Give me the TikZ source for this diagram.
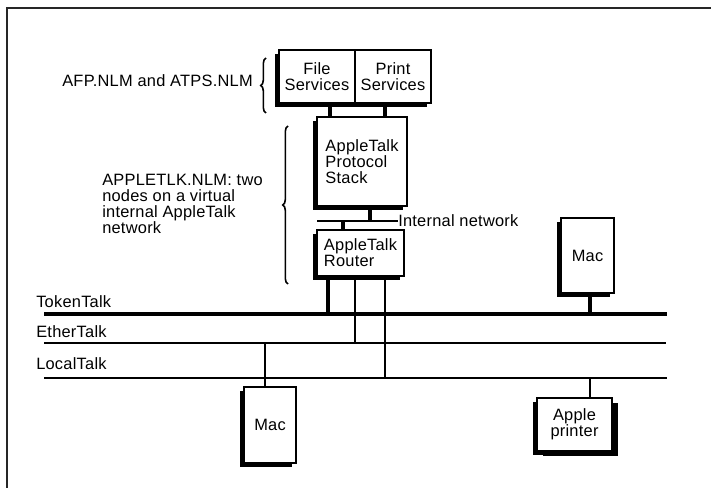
\documentclass[tikz,border=0pt]{standalone}
\usepackage{fontspec}
\setmainfont[LetterSpace=1.5]{Liberation Sans}
\usetikzlibrary{positioning, calc, shadows, decorations.pathreplacing}
\newcommand{\netfont}{\fontsize{12.3}{12}\selectfont}

\begin{document}
\begin{tikzpicture}[
  x=0.75pt, y=-0.75pt,
  box/.style={draw, line width=1.1pt, fill=white, inner sep=0pt, outer sep=0pt,
              align=center, font=\netfont, anchor=north west,
              drop shadow={shadow xshift=-3pt, shadow yshift=-3pt, fill=black, opacity=1}},
  rbox/.style={box, drop shadow={shadow xshift=4.5pt, shadow yshift=-3.5pt, fill=black, opacity=1}},
  lbl/.style={font=\netfont, inner sep=0pt, align=left},
  link/.style={line width=0.9pt},
  trunk/.style={line width=2.6pt},
  brc/.style={decorate, decoration={brace, amplitude=4pt}, line width=1.2pt}
]
  \useasboundingbox (0,0) rectangle (711,488);
  \draw[line width=1.6pt, black!85] (7,488) -- (7,8) -- (711,8);

  % server software
  \node[box, minimum width=57pt, minimum height=39.75pt] (print) at (355,50) {Print\\Services};
  \node[box, minimum width=57pt, minimum height=39.75pt, left=0pt of print] (file) {File\\Services};
  \node[box, minimum width=67.5pt, minimum height=66.75pt, align=left] (stack) at (317,117)
    {AppleTalk\\Protocol\\Stack};
  \node[box, minimum width=65.25pt, minimum height=34.5pt, align=left] (router) at (317,230)
    {AppleTalk\\Router};

  % clients
  \node[box, minimum width=39.75pt, minimum height=56.25pt] (macR) at (561,218) {Mac};
  \node[box, minimum width=39pt, minimum height=57pt] (macB) at (244,387) {Mac};
  \node[rbox, minimum width=56.25pt, minimum height=39.75pt] (printer) at (537,398) {Apple\\printer};

  % networks
  \coordinate (tokL) at (44,314);  \coordinate (tokR) at (667,314);
  \coordinate (ethL) at (44,343);  \coordinate (ethR) at (666,343);
  \coordinate (locL) at (44,378);  \coordinate (locR) at (667,378);
  \draw[trunk] (tokL) -- (tokR);
  \draw[link] (ethL) -- (ethR);
  \draw[link] (locL) -- (locR);
  \node[lbl, anchor=base west] (tok) at (36,308) {TokenTalk};
  \node[lbl, anchor=base west] (eth) at (36,338) {EtherTalk};
  \node[lbl, anchor=base west] (loc) at (36,370) {LocalTalk};

  % internal network
  \coordinate (netL) at (317,221);
  \coordinate (netR) at (398,221);
  \draw[link] (netL) -- (netR);
  \node[lbl, right=0pt of netR] (netlbl) {Internal network};

  \path (stack.north west) ++(13,0) coordinate (sv1)
        (stack.north west) ++(68,0) coordinate (sv2)
        (stack.south west) ++(53,0) coordinate (st1)
        (router.north west) ++(26,0) coordinate (rt0)
        (router.south west) ++(11,0) coordinate (rt1)
        (router.south west) ++(38,0) coordinate (rt2)
        (router.south west) ++(68,0) coordinate (rt3)
        (macR.south west) ++(29,0) coordinate (mr)
        (macB.north west) ++(21,0) coordinate (mb)
        (printer.north west) ++(53,0) coordinate (pr);

  \draw[trunk] (sv1 |- file.south) -- (sv1);
  \draw[trunk] (sv2 |- print.south) -- (sv2);
  \draw[trunk] (st1) -- (st1 |- netL);
  \draw[trunk] (rt0 |- netL) -- (rt0);
  \draw[trunk] (rt1) -- (rt1 |- tokL);
  \draw[link] (rt2) -- (rt2 |- ethL);
  \draw[link] (rt3) -- (rt3 |- locL);
  \draw[trunk] (mr) -- (mr |- tokL);
  \draw[link] (mb |- ethL) -- (mb);
  \draw[link] (pr |- locL) -- (pr);

  % modules
  \draw[brc] (266,113) -- (266,58);
  \draw[brc] (288,284) -- (288,126);
  \node[lbl, anchor=east] (afp) at (253,81) {AFP.NLM and ATPS.NLM};
  \node[lbl, anchor=north west] (atlk) at (102,174)
    {APPLETLK.NLM: two\\nodes on a virtual\\internal AppleTalk\\network};
\end{tikzpicture}
\end{document}
